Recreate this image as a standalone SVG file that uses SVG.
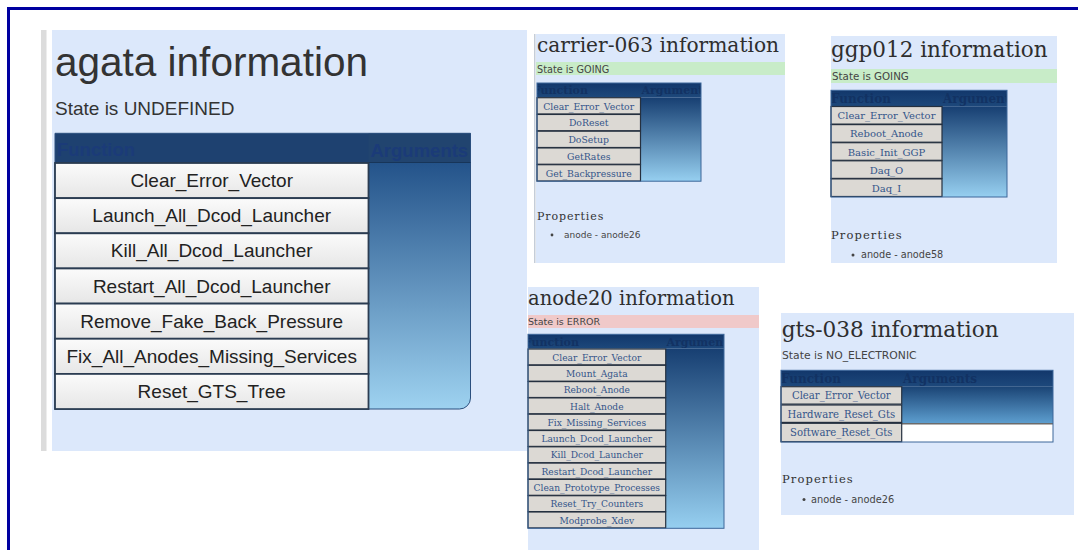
<svg xmlns="http://www.w3.org/2000/svg" width="1078" height="550" viewBox="0 0 1078 550">
<defs>
<linearGradient id="argsA" x1="0" y1="0" x2="0" y2="1"><stop offset="0" stop-color="#24538a"/><stop offset="1" stop-color="#9ed2f0"/></linearGradient>
<linearGradient id="argsS" x1="0" y1="0" x2="0" y2="1"><stop offset="0" stop-color="#173f72"/><stop offset="1" stop-color="#96cff0"/></linearGradient>
<linearGradient id="argsG" x1="0" y1="0" x2="0" y2="1"><stop offset="0" stop-color="#1a4374"/><stop offset="1" stop-color="#5d9ecf"/></linearGradient>
<linearGradient id="hdr" x1="0" y1="0" x2="0" y2="1"><stop offset="0" stop-color="#12376b"/><stop offset="1" stop-color="#1d487b"/></linearGradient>
<linearGradient id="btnA" x1="0" y1="0" x2="0" y2="1"><stop offset="0" stop-color="#fbfbfb"/><stop offset="1" stop-color="#e6e6e6"/></linearGradient>
<clipPath id="cA"><rect x="55" y="133.3" width="415.5" height="29.5"/></clipPath>
<clipPath id="cC"><rect x="537" y="83" width="164" height="14.5"/></clipPath>
<clipPath id="cG"><rect x="831" y="90.3" width="176" height="16"/></clipPath>
<clipPath id="cN"><rect x="528" y="334.3" width="196" height="14.3"/></clipPath>
<clipPath id="cT"><rect x="781" y="370.3" width="272" height="16"/></clipPath>
</defs>
<style>
.bg{fill:#dce8fb}
.ttl{font-family:"DejaVu Serif",serif;fill:#2e2e2e}
.st{font-family:"DejaVu Sans",sans-serif;fill:#444}
.prop{font-family:"DejaVu Serif",serif;fill:#333}
.li{font-family:"DejaVu Sans",sans-serif;fill:#444}
.btn{fill:#dcd9d4;stroke:#25303f;stroke-width:1.2}
.bt{font-family:"DejaVu Serif",serif;fill:#34558a;text-anchor:middle}
.ht{font-family:"DejaVu Serif",serif;font-weight:bold;fill:#123263}
.tb{fill:none;stroke:#3c679a;stroke-width:1}
.btnA{fill:url(#btnA);stroke:#2b3c52;stroke-width:1.8}
.btA{font-family:"Liberation Sans",Arial,sans-serif;font-size:19px;fill:#222;text-anchor:middle}
.htA{font-family:"Liberation Sans",Arial,sans-serif;font-weight:bold;font-size:18.5px;fill:#1b3b78}
</style>
<rect width="1078" height="550" fill="#ffffff"/>
<path d="M8.5 550V8.5H1078" fill="none" stroke="#0000a0" stroke-width="3"/>

<g id="agata">
<rect x="41" y="30" width="5.5" height="421" fill="#dcdcdc"/>
<rect class="bg" x="52" y="30" width="475" height="421"/>
<text x="55" y="76" font-family="Liberation Sans, Arial, sans-serif" font-size="40.5" fill="#333">agata information</text>
<text x="55" y="115" font-family="Liberation Sans, Arial, sans-serif" font-size="19" fill="#333">State is UNDEFINED</text>
<rect x="55" y="133.3" width="415.5" height="29.5" fill="#1e4170"/>
<rect x="368.5" y="133.3" width="102" height="29.5" fill="#21446f"/>
<path d="M368.5 162.8H470.5V398A11 11 0 0 1 459.5 409H368.5Z" fill="url(#argsA)"/>
<path d="M55 133.3H470.5V398A11 11 0 0 1 459.5 409H55Z" fill="none" stroke="#2b4f7e" stroke-width="1"/>
<line x1="55" y1="162.5" x2="470.5" y2="162.5" stroke="#173559" stroke-width="1"/>
<g clip-path="url(#cA)">
<text class="htA" x="57" y="156">Function</text>
<text class="htA" x="370.5" y="156.5">Arguments</text>
</g>
<rect class="btnA" x="55" y="163" width="313.5" height="35.15"/>
<rect class="btnA" x="55" y="198.15" width="313.5" height="35.15"/>
<rect class="btnA" x="55" y="233.3" width="313.5" height="35.15"/>
<rect class="btnA" x="55" y="268.45" width="313.5" height="35.15"/>
<rect class="btnA" x="55" y="303.6" width="313.5" height="35.15"/>
<rect class="btnA" x="55" y="338.75" width="313.5" height="35.15"/>
<rect class="btnA" x="55" y="373.9" width="313.5" height="35.15"/>
<text class="btA" x="211.7" y="187.1">Clear_Error_Vector</text>
<text class="btA" x="211.7" y="222.2">Launch_All_Dcod_Launcher</text>
<text class="btA" x="211.7" y="257.4">Kill_All_Dcod_Launcher</text>
<text class="btA" x="211.7" y="292.5">Restart_All_Dcod_Launcher</text>
<text class="btA" x="211.7" y="327.7">Remove_Fake_Back_Pressure</text>
<text class="btA" x="211.7" y="362.8">Fix_All_Anodes_Missing_Services</text>
<text class="btA" x="211.7" y="398">Reset_GTS_Tree</text>
</g>

<g id="carrier-063">
<rect x="534" y="34" width="1.5" height="229" fill="#c5cdd8"/>
<rect class="bg" x="536" y="34" width="249" height="229"/>
<text class="ttl" x="537" y="52" font-size="20.2">carrier-063 information</text>
<rect x="536" y="62" width="249" height="13" fill="#c8ecc8"/>
<text class="st" x="537" y="72.5" font-size="9.7">State is GOING</text>
<rect x="537" y="83" width="164" height="14.5" fill="url(#hdr)"/>
<rect x="640.7" y="97.5" width="60.3" height="83.7" fill="url(#argsS)"/>
<g clip-path="url(#cC)">
<text class="ht" x="533" y="94" font-size="11">Function</text>
<text class="ht" x="641.5" y="94" font-size="11">Arguments</text>
</g>
<rect class="btn" x="537" y="97.7" width="103.5" height="16.3"/>
<rect class="btn" x="537" y="114.45" width="103.5" height="16.3"/>
<rect class="btn" x="537" y="131.2" width="103.5" height="16.3"/>
<rect class="btn" x="537" y="147.95" width="103.5" height="16.3"/>
<rect class="btn" x="537" y="164.7" width="103.5" height="16.3"/>
<text class="bt" x="588.7" y="109.6" font-size="9.3">Clear_Error_Vector</text>
<text class="bt" x="588.7" y="126.3" font-size="9.3">DoReset</text>
<text class="bt" x="588.7" y="143.1" font-size="9.3">DoSetup</text>
<text class="bt" x="588.7" y="159.8" font-size="9.3">GetRates</text>
<text class="bt" x="588.7" y="176.6" font-size="9.3">Get_Backpressure</text>
<rect class="tb" x="537" y="83" width="164" height="98.2"/>
<text class="prop" x="537" y="220" font-size="11" letter-spacing="0.9">Properties</text>
<circle cx="552" cy="235" r="1.4" fill="#444"/>
<text class="li" x="564" y="238" font-size="9">anode - anode26</text>
</g>

<g id="ggp012">
<rect class="bg" x="831" y="36" width="226" height="227"/>
<text class="ttl" x="831" y="57" font-size="21.5">ggp012 information</text>
<rect x="831" y="69" width="226" height="14" fill="#c8ecc8"/>
<text class="st" x="832" y="79.5" font-size="10.3">State is GOING</text>
<rect x="831" y="90.3" width="176" height="16" fill="url(#hdr)"/>
<rect x="942" y="106.3" width="65" height="90.7" fill="url(#argsS)"/>
<g clip-path="url(#cG)">
<text class="ht" x="831" y="102.5" font-size="12">Function</text>
<text class="ht" x="943" y="102.5" font-size="12">Arguments</text>
</g>
<rect class="btn" x="831" y="106.5" width="111" height="17.6"/>
<rect class="btn" x="831" y="124.6" width="111" height="17.6"/>
<rect class="btn" x="831" y="142.7" width="111" height="17.6"/>
<rect class="btn" x="831" y="160.8" width="111" height="17.6"/>
<rect class="btn" x="831" y="178.9" width="111" height="17.6"/>
<text class="bt" x="886.5" y="119.3" font-size="10">Clear_Error_Vector</text>
<text class="bt" x="886.5" y="137.4" font-size="10">Reboot_Anode</text>
<text class="bt" x="886.5" y="155.5" font-size="10">Basic_Init_GGP</text>
<text class="bt" x="886.5" y="173.6" font-size="10">Daq_O</text>
<text class="bt" x="886.5" y="191.7" font-size="10">Daq_I</text>
<rect class="tb" x="831" y="90.3" width="176" height="106.7"/>
<text class="prop" x="831" y="238.5" font-size="11.5" letter-spacing="1.1">Properties</text>
<circle cx="853" cy="255" r="1.5" fill="#444"/>
<text class="li" x="861" y="258" font-size="9.7">anode - anode58</text>
</g>

<g id="anode20">
<rect class="bg" x="528" y="287" width="231" height="263"/>
<text class="ttl" x="528" y="305" font-size="19.5">anode20 information</text>
<rect x="528" y="315" width="231" height="13" fill="#f0c9c9"/>
<text class="st" x="528" y="325" font-size="9.5">State is ERROR</text>
<rect x="528" y="334.3" width="196" height="14.3" fill="url(#hdr)"/>
<rect x="665.7" y="348.6" width="58.3" height="179.7" fill="url(#argsS)"/>
<g clip-path="url(#cN)">
<text class="ht" x="524" y="345.5" font-size="11">Function</text>
<text class="ht" x="666.5" y="345.5" font-size="11">Arguments</text>
</g>
<rect class="btn" x="528" y="349" width="137.7" height="15.9"/>
<rect class="btn" x="528" y="365.3" width="137.7" height="15.9"/>
<rect class="btn" x="528" y="381.6" width="137.7" height="15.9"/>
<rect class="btn" x="528" y="397.9" width="137.7" height="15.9"/>
<rect class="btn" x="528" y="414.2" width="137.7" height="15.9"/>
<rect class="btn" x="528" y="430.5" width="137.7" height="15.9"/>
<rect class="btn" x="528" y="446.8" width="137.7" height="15.9"/>
<rect class="btn" x="528" y="463.1" width="137.7" height="15.9"/>
<rect class="btn" x="528" y="479.4" width="137.7" height="15.9"/>
<rect class="btn" x="528" y="495.7" width="137.7" height="15.9"/>
<rect class="btn" x="528" y="512" width="137.7" height="15.9"/>
<text class="bt" x="596.8" y="360.6" font-size="9.1">Clear_Error_Vector</text>
<text class="bt" x="596.8" y="376.9" font-size="9.1">Mount_Agata</text>
<text class="bt" x="596.8" y="393.2" font-size="9.1">Reboot_Anode</text>
<text class="bt" x="596.8" y="409.5" font-size="9.1">Halt_Anode</text>
<text class="bt" x="596.8" y="425.8" font-size="9.1">Fix_Missing_Services</text>
<text class="bt" x="596.8" y="442.1" font-size="9.1">Launch_Dcod_Launcher</text>
<text class="bt" x="596.8" y="458.4" font-size="9.1">Kill_Dcod_Launcher</text>
<text class="bt" x="596.8" y="474.7" font-size="9.1">Restart_Dcod_Launcher</text>
<text class="bt" x="596.8" y="491" font-size="9.1">Clean_Prototype_Processes</text>
<text class="bt" x="596.8" y="507.3" font-size="9.1">Reset_Try_Counters</text>
<text class="bt" x="596.8" y="523.6" font-size="9.1">Modprobe_Xdev</text>
<rect class="tb" x="528" y="334.3" width="196" height="194"/>
</g>

<g id="gts-038">
<rect class="bg" x="781" y="313" width="293" height="202"/>
<text class="ttl" x="781.7" y="337" font-size="21.6">gts-038 information</text>
<text class="st" x="782" y="359.3" font-size="10.8">State is NO_ELECTRONIC</text>
<rect x="781" y="370.3" width="272" height="16" fill="url(#hdr)"/>
<rect x="901.7" y="386.3" width="151.3" height="37" fill="url(#argsG)"/>
<rect x="901.7" y="423.3" width="151.3" height="18.7" fill="#ffffff"/>
<line x1="901.7" y1="423.8" x2="1053" y2="423.8" stroke="#6b6b6b" stroke-width="1.5"/>
<g clip-path="url(#cT)">
<text class="ht" x="781" y="382.5" font-size="12">Function</text>
<text class="ht" x="903" y="382.5" font-size="12">Arguments</text>
</g>
<rect class="btn" x="781" y="386.7" width="120.7" height="17.4"/>
<rect class="btn" x="781" y="405" width="120.7" height="17.4"/>
<rect class="btn" x="781" y="423.3" width="120.7" height="18.4"/>
<text class="bt" x="841.3" y="399.2" font-size="10.1">Clear_Error_Vector</text>
<text class="bt" x="841.3" y="417.5" font-size="10.1">Hardware_Reset_Gts</text>
<text class="bt" x="841.3" y="436.3" font-size="10.1">Software_Reset_Gts</text>
<rect class="tb" x="781" y="370.3" width="272" height="71.7"/>
<text class="prop" x="782" y="483.3" font-size="11.5" letter-spacing="1.1">Properties</text>
<circle cx="804" cy="499.5" r="1.5" fill="#444"/>
<text class="li" x="811" y="502.5" font-size="9.8">anode - anode26</text>
</g>
</svg>
